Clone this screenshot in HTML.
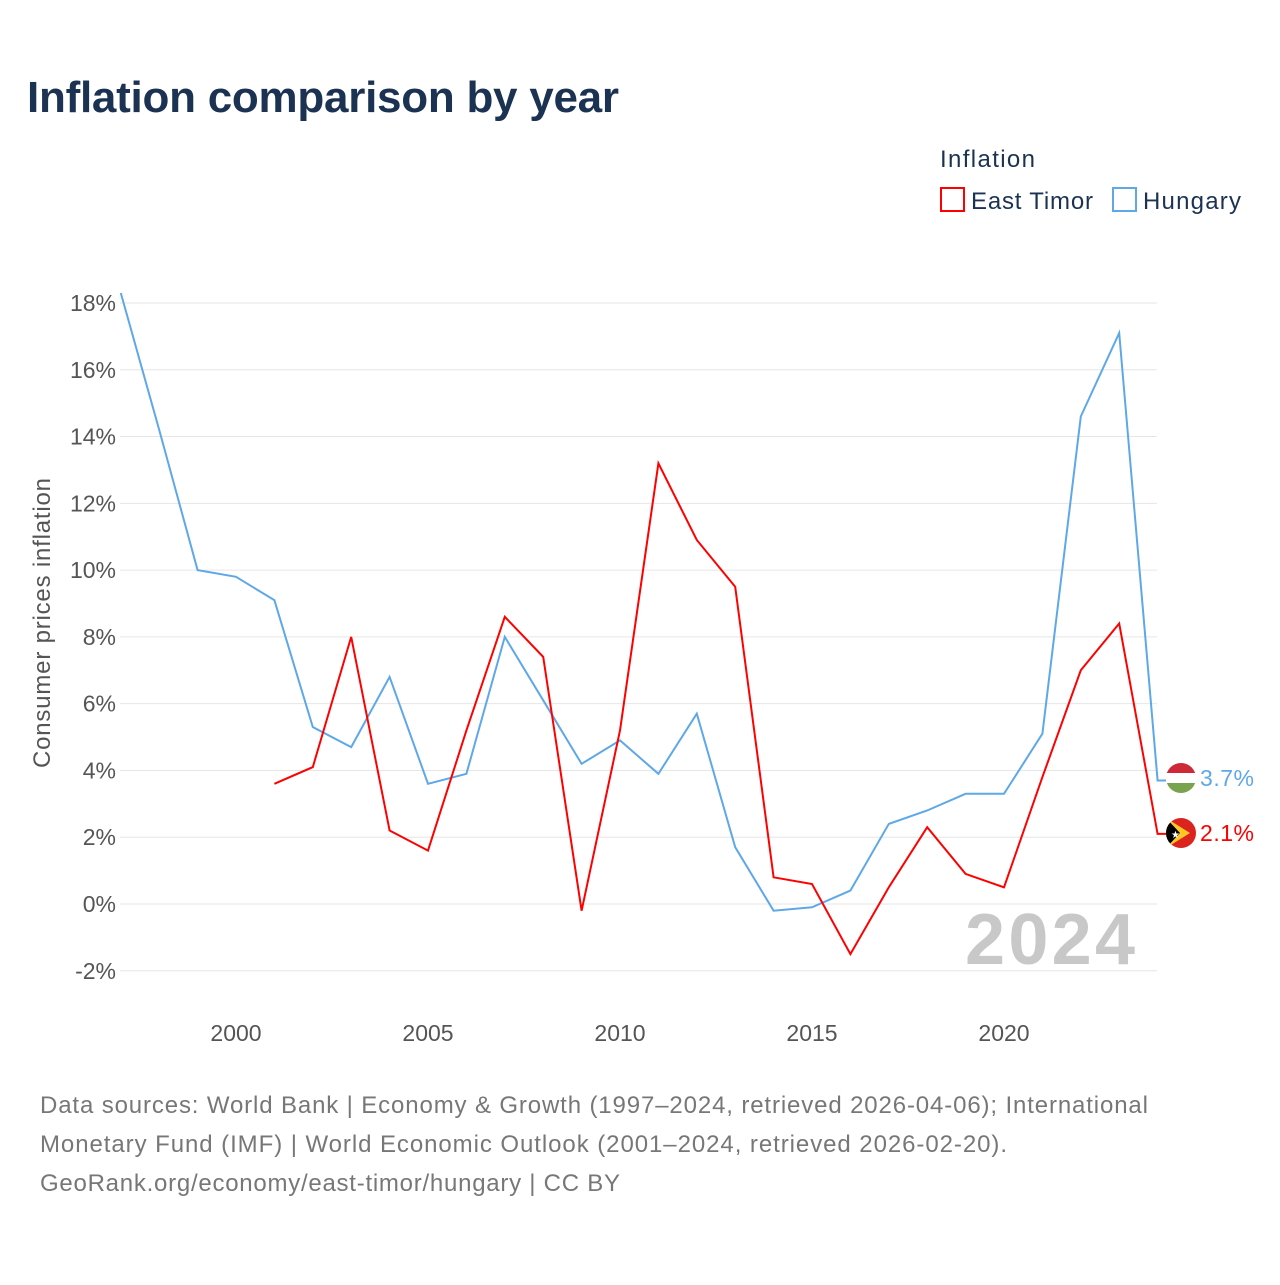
<!DOCTYPE html>
<html><head><meta charset="utf-8"><style>
body{margin:0;background:#fff;font-family:"Liberation Sans",sans-serif}
svg text{font-family:"Liberation Sans",sans-serif}
</style></head><body>
<svg width="1280" height="1280" viewBox="0 0 1280 1280" xmlns="http://www.w3.org/2000/svg">
<rect width="1280" height="1280" fill="#fff"/>
<text x="27" y="112" font-size="44" font-weight="bold" fill="#1b3252" textLength="592">Inflation comparison by year</text>
<text x="940" y="167" font-size="24" fill="#1b3252" textLength="95">Inflation</text>
<g><rect x="941" y="188" width="23" height="23" fill="none" stroke="#f00" stroke-width="2"/><text x="971" y="209" font-size="24" fill="#1b3252" textLength="122">East Timor</text></g>
<g><rect x="1113" y="188" width="23" height="23" fill="none" stroke="#5ea8e8" stroke-width="2"/><text x="1143" y="209" font-size="24" fill="#1b3252" textLength="98">Hungary</text></g>
<g id="grid"></g>
<g id="yticks"></g>
<g id="xticks"></g>
<text transform="translate(50,623) rotate(-90)" text-anchor="middle" font-size="24" fill="#555" textLength="290">Consumer prices inflation</text>
<text x="1135" y="964" text-anchor="end" font-size="72" font-weight="bold" fill="#c8c8c8" textLength="170">2024</text>
<g id="series"></g>
<g><clipPath id="c1"><circle cx="1181" cy="778" r="15"/></clipPath><g clip-path="url(#c1)"><rect x="1166" y="763" width="30" height="10" fill="#ce2939"/><rect x="1166" y="773" width="30" height="10" fill="#fff"/><rect x="1166" y="783" width="30" height="10" fill="#7aa34f"/></g></g>
<g><clipPath id="c2"><circle cx="1181" cy="833" r="15"/></clipPath><g clip-path="url(#c2)"><rect x="1166" y="818" width="30" height="30" fill="#dc241f"/><polygon points="1166,818 1190,833 1166,848" fill="#ffc726"/><polygon points="1166,818 1180,833 1166,848" fill="#000"/><text x="1171" y="838" font-size="10" fill="#fff">★</text></g></g>
<text x="1200" y="786" font-size="23" fill="#5ea8e8" textLength="54">3.7%</text>
<text x="1200" y="841" font-size="23" fill="#f00" textLength="54">2.1%</text>
<g font-size="24" fill="#777">
<text x="40" y="1113" textLength="1108">Data sources: World Bank | Economy &amp; Growth (1997–2024, retrieved 2026-04-06); International</text>
<text x="40" y="1152" textLength="967">Monetary Fund (IMF) | World Economic Outlook (2001–2024, retrieved 2026-02-20).</text>
<text x="40" y="1191" textLength="580">GeoRank.org/economy/east-timor/hungary | CC BY</text>
</g>
</svg>
<script>
const yTicks=[-2,0,2,4,6,8,10,12,14,16,18];
const xTicks=[2000,2005,2010,2015,2020];
const huYears=[1997,1998,1999,2000,2001,2002,2003,2004,2005,2006,2007,2008,2009,2010,2011,2012,2013,2014,2015,2016,2017,2018,2019,2020,2021,2022,2023,2024];
const huValues=[18.3,14.2,10.0,9.8,9.1,5.3,4.7,6.8,3.6,3.9,8.0,6.1,4.2,4.9,3.9,5.7,1.7,-0.2,-0.1,0.4,2.4,2.8,3.3,3.3,5.1,14.6,17.1,3.7];
const tlYears=[2001,2002,2003,2004,2005,2006,2007,2008,2009,2010,2011,2012,2013,2014,2015,2016,2017,2018,2019,2020,2021,2022,2023,2024];
const tlValues=[3.6,4.1,8.0,2.2,1.6,5.2,8.6,7.4,-0.2,5.2,13.2,10.9,9.5,0.8,0.6,-1.5,0.5,2.3,0.9,0.5,3.8,7.0,8.4,2.1];
const NS="http://www.w3.org/2000/svg";
const X=yr=>236+(yr-2000)*38.4;
const Y=v=>904-v*33.39;
const grid=document.getElementById('grid'),yt=document.getElementById('yticks'),xt=document.getElementById('xticks'),ser=document.getElementById('series');
yTicks.forEach(t=>{
 const l=document.createElementNS(NS,'line');
 
 
 l.setAttribute('x1',120);l.setAttribute('x2',1157);l.setAttribute('y1',Y(t));l.setAttribute('y2',Y(t));
 l.setAttribute('stroke','#e6e6e6');l.setAttribute('stroke-width','1');grid.appendChild(l);
 const tx=document.createElementNS(NS,'text');
 
 
 tx.setAttribute('x',116);tx.setAttribute('y',Y(t)+8);tx.setAttribute('text-anchor','end');
 tx.setAttribute('font-size','23');tx.setAttribute('fill','#555');tx.textContent=t+'%';yt.appendChild(tx);
});
xTicks.forEach(t=>{
 const tx=document.createElementNS(NS,'text');
 
 
 tx.setAttribute('x',X(t));tx.setAttribute('y',1041);tx.setAttribute('text-anchor','middle');
 tx.setAttribute('font-size','23');tx.setAttribute('fill','#555');tx.textContent=t;xt.appendChild(tx);
});
function line(years,vals,color,name){
 let d=years.map((y,i)=>(i?'L':'M')+X(y).toFixed(1)+','+Y(vals[i]).toFixed(1)).join(' ');
 d+=' L1166,'+Y(vals[vals.length-1]).toFixed(1);
 const p=document.createElementNS(NS,'path');
 
 
 p.setAttribute('d',d);p.setAttribute('fill','none');p.setAttribute('stroke',color);p.setAttribute('stroke-width','2');
 ser.appendChild(p);
}
line(huYears,huValues,'#5ea8e8','hungary-line');
line(tlYears,tlValues,'#f00','east-timor-line');
</script>
</body></html>
